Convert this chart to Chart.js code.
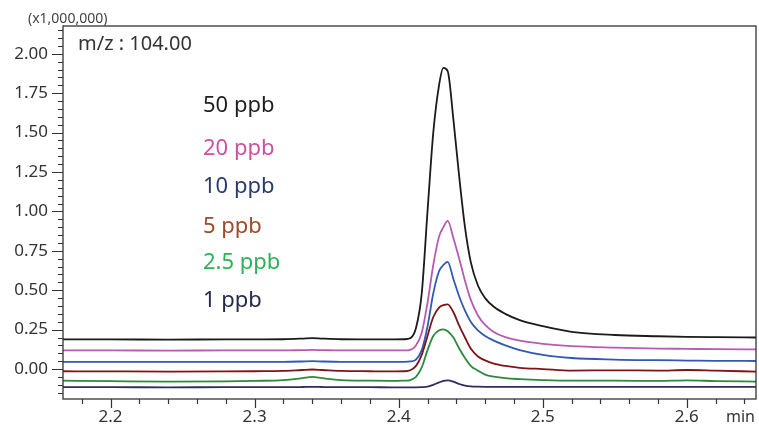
<!DOCTYPE html>
<html lang="en">
<head>
<meta charset="UTF-8">
<title>m/z 104.00</title>
<script src="https://cdn.jsdelivr.net/npm/chart.js"></script>
<style>
  body { margin: 0; background: #fff; }
  #wrap { width: 759px; height: 427px; }
</style>
</head>
<body>
<div id="wrap"><canvas id="chrom" width="759" height="427"></canvas></div>
<script>
// retention time (min)
const times = [2.167, 2.20, 2.24, 2.28, 2.30, 2.32, 2.333, 2.34, 2.347, 2.36, 2.38, 2.395,
  2.404, 2.408, 2.412, 2.416, 2.420, 2.424, 2.428, 2.431, 2.434, 2.438, 2.442, 2.446, 2.450,
  2.455, 2.460, 2.466, 2.474, 2.484, 2.50, 2.52, 2.55, 2.58, 2.60, 2.62, 2.648];

// intensity (x1,000,000), traces offset as in the original plot
const ppb50 = [0.188, 0.188, 0.187, 0.188, 0.188, 0.189, 0.193, 0.196, 0.193, 0.189, 0.188, 0.188,
  0.189, 0.195, 0.26, 0.48, 1.00, 1.50, 1.80, 1.91, 1.89, 1.58, 1.22, 0.90, 0.68,
  0.53, 0.45, 0.395, 0.35, 0.31, 0.272, 0.236, 0.216, 0.208, 0.204, 0.202, 0.200];
const ppb20 = [0.118, 0.118, 0.117, 0.118, 0.118, 0.118, 0.120, 0.121, 0.120, 0.118, 0.118, 0.118,
  0.118, 0.122, 0.15, 0.23, 0.42, 0.66, 0.84, 0.90, 0.94, 0.83, 0.70, 0.56, 0.44,
  0.34, 0.28, 0.235, 0.202, 0.18, 0.16, 0.145, 0.136, 0.130, 0.128, 0.126, 0.125];
const ppb10 = [0.046, 0.046, 0.045, 0.046, 0.046, 0.046, 0.048, 0.050, 0.048, 0.046, 0.046, 0.046,
  0.046, 0.048, 0.06, 0.12, 0.27, 0.48, 0.62, 0.66, 0.68, 0.57, 0.46, 0.37, 0.30,
  0.245, 0.21, 0.18, 0.15, 0.12, 0.09, 0.07, 0.060, 0.056, 0.054, 0.052, 0.051];
const ppb5 = [-0.014, -0.015, -0.016, -0.015, -0.014, -0.012, -0.006, -0.003, -0.006, -0.012, -0.014, -0.015,
  -0.014, -0.008, 0.02, 0.09, 0.21, 0.33, 0.39, 0.405, 0.41, 0.36, 0.275, 0.20, 0.13,
  0.08, 0.055, 0.035, 0.02, 0.008, 0.0, -0.01, -0.008, -0.010, -0.006, -0.010, -0.016];
const ppb2_5 = [-0.074, -0.077, -0.080, -0.078, -0.075, -0.070, -0.058, -0.050, -0.058, -0.070, -0.074, -0.075,
  -0.074, -0.070, -0.05, 0.01, 0.12, 0.21, 0.245, 0.252, 0.24, 0.20, 0.13, 0.07, 0.02,
  -0.01, -0.035, -0.048, -0.058, -0.064, -0.070, -0.074, -0.074, -0.075, -0.072, -0.076, -0.080];
const ppb1 = [-0.115, -0.115, -0.116, -0.115, -0.115, -0.115, -0.114, -0.113, -0.114, -0.115, -0.115, -0.116,
  -0.116, -0.116, -0.116, -0.115, -0.112, -0.100, -0.085, -0.075, -0.072, -0.080, -0.095, -0.105, -0.110,
  -0.112, -0.113, -0.113, -0.113, -0.113, -0.113, -0.113, -0.113, -0.113, -0.113, -0.113, -0.113];

const seriesNames = ['50 ppb', '20 ppb', '10 ppb', '5 ppb', '2.5 ppb', '1 ppb'];
const seriesValues = [ppb50, ppb20, ppb10, ppb5, ppb2_5, ppb1];
const lineColors = ['#1b1b1b', '#b65cb0', '#3159b4', '#7c1518', '#2b8a3d', '#2c2e5f'];
const labelColors = ['#1e1e1e', '#cc509f', '#283c6a', '#9b4a2a', '#2db158', '#232a4a'];

const xMin = 2.167, xMax = 2.648;
const yMin = -0.19, yMax = 2.176;

Chart.defaults.font.family = "'Noto Sans', 'Open Sans', sans-serif";
Chart.defaults.color = '#333';

const near = (v, step) => Math.abs(v / step - Math.round(v / step)) < 1e-6;

// box, tick marks and annotations
const decor = {
  id: 'decor',
  afterDraw(chart) {
    const c = chart.ctx, a = chart.chartArea;
    const xs = chart.scales.x, ys = chart.scales.y;
    c.save();
    c.strokeStyle = '#333';
    c.lineWidth = 1.3;
    c.strokeRect(a.left, a.top, a.right - a.left, a.bottom - a.top);

    c.lineWidth = 1.2;
    c.beginPath();
    for (let i = -3; i <= 43; i++) {
      const v = i * 0.05;
      if (v < yMin || v > yMax) continue;
      const y = Math.round(ys.getPixelForValue(v)) + 0.5;
      const len = i % 5 === 0 ? 11 : 5;
      c.moveTo(a.left - len, y);
      c.lineTo(a.left, y);
    }
    for (let i = 109; i <= 132; i++) {
      const v = i * 0.02;
      if (v < xMin || v > xMax) continue;
      const x = Math.round(xs.getPixelForValue(v)) + 0.5;
      const len = i % 5 === 0 ? 9 : 5;
      c.moveTo(x, a.bottom);
      c.lineTo(x, a.bottom + len);
    }
    c.stroke();

    c.fillStyle = '#444';
    c.font = "14px 'Noto Sans', sans-serif";
    c.textBaseline = 'alphabetic';
    c.textAlign = 'left';
    c.fillText('(x1,000,000)', 28, 23);

    c.fillStyle = '#333';
    c.font = "20px 'Noto Sans', sans-serif";
    c.fillText('m/z : 104.00', a.left + 15, a.top + 24);

    c.font = "16px 'Noto Sans', sans-serif";
    c.textAlign = 'right';
    c.fillText('min', a.right - 1, a.bottom + 23);

    const labelBase = [112, 155, 193, 233, 269, 307];
    c.font = "22px 'Noto Sans', sans-serif";
    c.textAlign = 'left';
    seriesNames.forEach((n, i) => {
      c.fillStyle = labelColors[i];
      c.fillText(n, 203, labelBase[i]);
    });
    c.restore();
  }
};

new Chart(document.getElementById('chrom'), {
  type: 'line',
  data: {
    datasets: seriesNames.map((n, k) => ({
      label: n,
      data: times.map((t, i) => ({ x: t, y: seriesValues[k][i] })),
      borderColor: lineColors[k],
      borderWidth: 1.8,
      pointRadius: 0,
      fill: false,
      cubicInterpolationMode: 'monotone'
    })).reverse()
  },
  options: {
    responsive: false,
    animation: false,
    layout: { padding: { top: 26, right: 3, left: 0, bottom: 0 } },
    plugins: { legend: { display: false }, tooltip: { enabled: false } },
    scales: {
      x: {
        type: 'linear',
        min: xMin,
        max: xMax,
        grid: { display: false, drawTicks: false },
        border: { display: false },
        afterFit: s => { s.height = 28; },
        ticks: {
          stepSize: 0.1,
          includeBounds: false,
          autoSkip: false,
          maxRotation: 0,
          padding: 8,
          font: { size: 17 },
          color: '#333',
          callback: v => near(v, 0.1) ? v.toFixed(1) : ''
        }
      },
      y: {
        min: yMin,
        max: yMax,
        grid: { display: false, drawTicks: false },
        border: { display: false },
        afterFit: s => { s.width = 63; },
        ticks: {
          stepSize: 0.25,
          includeBounds: false,
          autoSkip: false,
          padding: 15,
          font: { size: 17 },
          color: '#333',
          callback: v => near(v, 0.25) ? v.toFixed(2) : ''
        }
      }
    }
  },
  plugins: [decor]
});
</script>
</body>
</html>
